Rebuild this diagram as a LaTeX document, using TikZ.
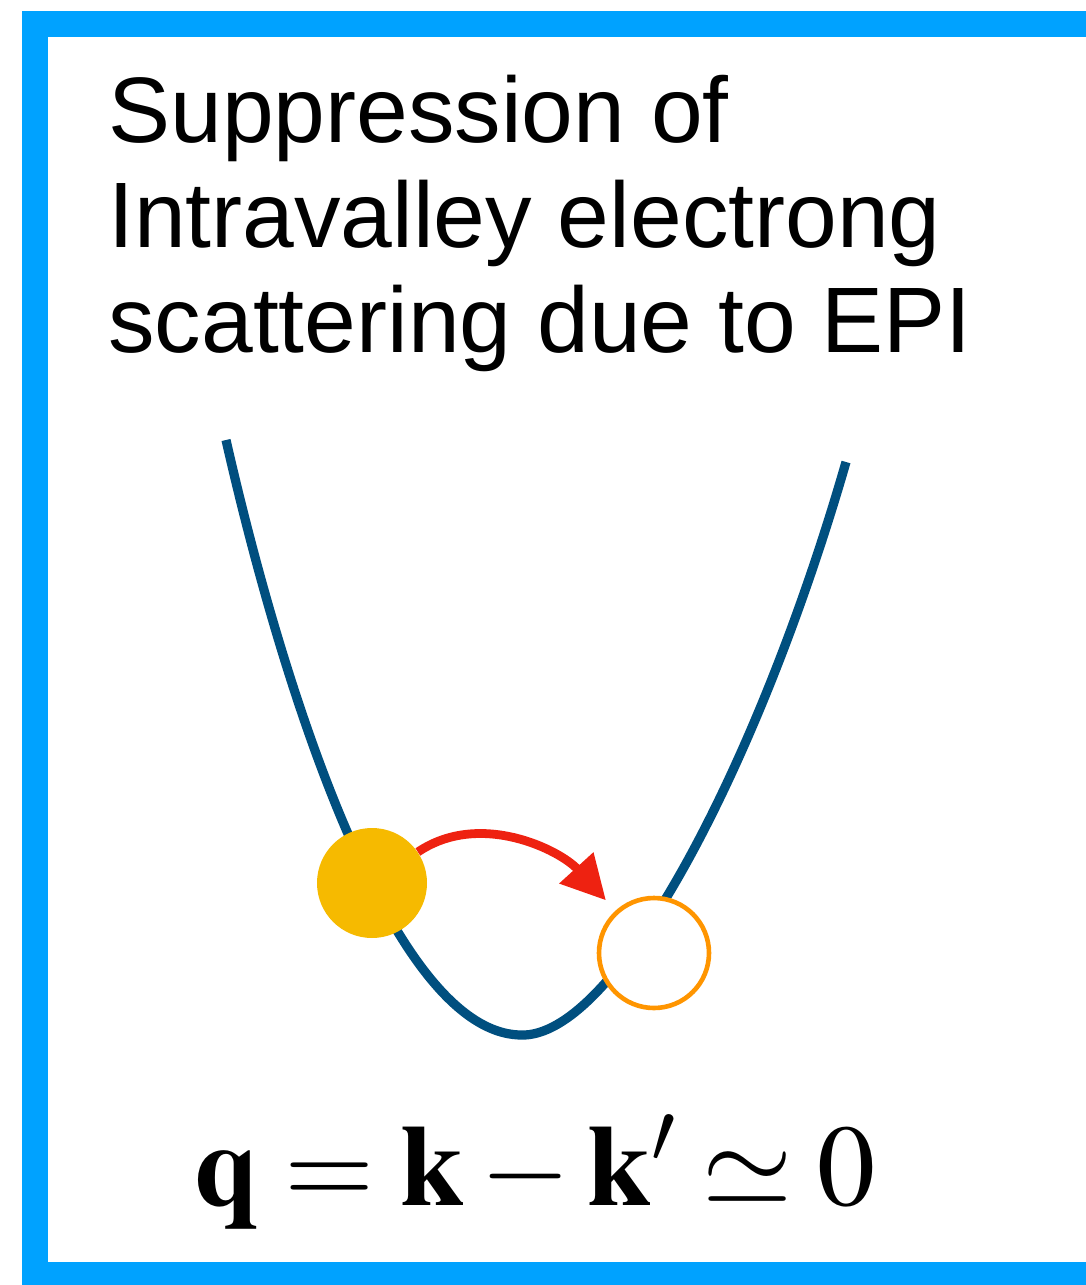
\documentclass[tikz,border=0pt]{standalone}
\usepackage{mathptmx}
\usepackage[no-math]{fontspec}
\setmainfont{Liberation Sans}
\usepackage{tikz}
\usetikzlibrary{arrows.meta,positioning}
\definecolor{frameblue}{HTML}{00A2FF}
\definecolor{bandblue}{HTML}{004F7F}
\definecolor{elyellow}{HTML}{F6BA00}
\definecolor{holeorange}{HTML}{FF9500}
\definecolor{scatred}{HTML}{EE2211}

\begin{document}
\begin{tikzpicture}[x=0.5pt,y=-0.5pt,
  title/.style={anchor=base west,align=left,font=\fontsize{46.5}{52.5}\selectfont,inner sep=0pt},
  band/.style={draw=bandblue,line width=4.6pt},
  elec/.style={circle,fill=elyellow,minimum size=55pt,inner sep=0pt},
  hole/.style={circle,draw=holeorange,line width=2.3pt,fill=white,minimum size=55pt,inner sep=0pt},
  arr/.style={-{Triangle[length=22pt,width=22pt]},line width=4.4pt,scatred},
  eqn/.style={anchor=base,font=\fontsize{58}{62}\selectfont,inner sep=0pt}]
  \useasboundingbox (0,0) rectangle (1086,1285);
  \clip (0,0) rectangle (1086,1285);
  \draw[frameblue,line width=13pt] (35,23.5) rectangle (1110,1275);
  \node[title] (title) at (108,352) {Suppression of\\Intravalley electrong\\scattering due to EPI};
  % valley of the band
  \draw[band] (226,440) .. controls (290,720) and (400,1040) .. (525,1035)
    .. controls (620,1030) and (760,760) .. (846,462);
  \node[elec] (elec) at (372,883) {};
  \node[hole] (hole) at (654,953) {};
  \draw[arr,shorten >=7pt] (elec) .. controls (480,810) and (560,850) .. (hole);
  \node[eqn] (eqn) at (535,1205) {$\mathbf{q}=\mathbf{k}-\mathbf{k}'\simeq 0$};
\end{tikzpicture}
\end{document}
